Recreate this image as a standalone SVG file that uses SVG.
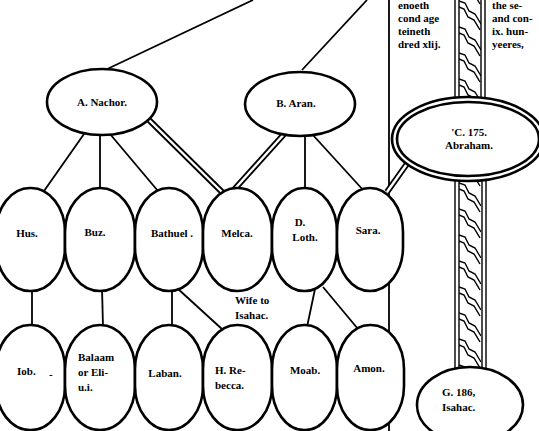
<svg xmlns="http://www.w3.org/2000/svg" width="539" height="431" viewBox="0 0 539 431">
<defs>
<style>
.n{fill:#fff;stroke:#000;stroke-width:2.6}
.l{stroke:#000;stroke-width:1.8;fill:none}
.dbo{stroke:#000;stroke-width:6;fill:none}
.dbi{stroke:#fff;stroke-width:2.4;fill:none}
.t{font-family:"Liberation Serif",serif;font-size:11px;font-weight:bold;fill:#000}
.c{text-anchor:middle}
.r{stroke:#000;stroke-width:1.4;fill:none}
</style>
<pattern id="rope" patternUnits="userSpaceOnUse" x="459" y="0" width="22" height="26">
<path d="M0,1 L6,3 L10,11 L16,14 L22,24" class="r"/>
<path d="M0,7 L5,9 L9,17 L15,20 L21,30" class="r"/>
<path d="M0,-19 L5,-17 L9,-9 L15,-6 L21,4" class="r"/>
</pattern>
</defs>

<g id="connectors">
<line class="l" x1="253" y1="0" x2="103" y2="71"/>
<line class="l" x1="367" y1="0" x2="302" y2="70"/>
<line class="l" x1="389" y1="0" x2="389" y2="431"/>
<line class="l" x1="84" y1="134" x2="44" y2="191"/>
<line class="l" x1="100" y1="134" x2="100" y2="190"/>
<line class="l" x1="110" y1="134" x2="158" y2="191"/>
<line class="dbo" x1="148" y1="119" x2="223" y2="193"/>
<line class="dbi" x1="148" y1="119" x2="223" y2="193"/>
<line class="dbo" x1="286" y1="132" x2="231" y2="193"/>
<line class="dbi" x1="286" y1="132" x2="231" y2="193"/>
<line class="l" x1="305" y1="134" x2="305" y2="190"/>
<line class="l" x1="312" y1="134" x2="364" y2="191"/>
<line class="dbo" x1="409" y1="161" x2="387" y2="192"/>
<line class="dbi" x1="409" y1="161" x2="387" y2="192"/>
<line class="l" x1="32" y1="288" x2="32" y2="327"/>
<line class="l" x1="102" y1="288" x2="103" y2="327"/>
<line class="l" x1="172" y1="288" x2="172" y2="327"/>
<line class="l" x1="177" y1="288" x2="223" y2="330"/>
<line class="l" x1="315" y1="289" x2="307" y2="327"/>
<line class="l" x1="323" y1="287" x2="358" y2="329"/>
<rect x="459" y="0" width="22" height="110" fill="url(#rope)"/>
<rect x="459" y="170" width="22" height="205" fill="url(#rope)"/>
<path class="r" d="M455,0 V110 M459,0 V110 M481,0 V110 M485,0 V110"/>
<path class="r" d="M455,170 V375 M459,170 V375 M482,170 V375 M486,170 V375"/>
</g>

<g id="topnote">
<text class="t" x="398" y="9">enoeth</text>
<text class="t" x="398" y="22">cond age</text>
<text class="t" x="398" y="35">teineth</text>
<text class="t" x="398" y="48">dred xlij.</text>
<text class="t" x="492" y="9">the se-</text>
<text class="t" x="492" y="22">and con-</text>
<text class="t" x="492" y="35">ix. hun-</text>
<text class="t" x="492" y="48">yeeres,</text>
</g>

<g id="nachor"><ellipse class="n" cx="102" cy="102" rx="55" ry="33"/><text class="t c" x="102" y="106">A. Nachor.</text></g>
<g id="aran"><ellipse class="n" cx="300" cy="104" rx="55" ry="32"/><text class="t c" x="296" y="107">B. Aran.</text></g>
<g id="abraham"><ellipse class="n" cx="468" cy="139" rx="76" ry="42"/><ellipse class="n" cx="468" cy="139" rx="71" ry="37" stroke-width="2"/><text class="t c" x="469" y="136">'C. 175.</text><text class="t c" x="469" y="149">Abraham.</text></g>
<g id="isahac"><ellipse class="n" cx="470" cy="405" rx="53" ry="38"/><text class="t" x="442" y="396">G. 186,</text><text class="t" x="442" y="411">Isahac.</text></g>

<g id="hus"><rect class="n" x="-4" y="188" width="69" height="103" rx="34" ry="44"/><text class="t c" x="27" y="237">Hus.</text></g>
<g id="buz"><rect class="n" x="65" y="188" width="70" height="103" rx="35" ry="44"/><text class="t c" x="95" y="236">Buz.</text></g>
<g id="bathuel"><rect class="n" x="135" y="188" width="68" height="103" rx="34" ry="44"/><text class="t c" x="172" y="237">Bathuel .</text></g>
<g id="melca"><rect class="n" x="203" y="188" width="69" height="103" rx="34" ry="44"/><text class="t c" x="237" y="237">Melca.</text></g>
<g id="loth"><rect class="n" x="272" y="188" width="65" height="103" rx="32" ry="44"/><text class="t c" x="300" y="226">D.</text><text class="t c" x="305" y="241">Loth.</text></g>
<g id="sara"><rect class="n" x="337" y="188" width="66" height="103" rx="33" ry="44"/><text class="t c" x="368" y="234">Sara.</text></g>

<g id="iob"><rect class="n" x="-4" y="325" width="69" height="105" rx="34" ry="44"/><text class="t" x="17" y="375">Iob.</text><text class="t" x="49" y="378">-</text></g>
<g id="balaam"><rect class="n" x="65" y="325" width="70" height="105" rx="35" ry="44"/><text class="t" x="78" y="361">Balaam</text><text class="t" x="78" y="376">or Eli-</text><text class="t" x="78" y="391">u.i.</text></g>
<g id="laban"><rect class="n" x="135" y="325" width="68" height="105" rx="34" ry="44"/><text class="t c" x="165" y="377">Laban.</text></g>
<g id="rebecca"><rect class="n" x="203" y="325" width="69" height="105" rx="34" ry="44"/><text class="t" x="215" y="374">H. Re-</text><text class="t" x="215" y="389">becca.</text></g>
<g id="moab"><rect class="n" x="272" y="325" width="65" height="105" rx="32" ry="44"/><text class="t c" x="305" y="374">Moab.</text></g>
<g id="amon"><rect class="n" x="337" y="325" width="67" height="105" rx="33" ry="44"/><text class="t c" x="369" y="372">Amon.</text></g>

<g id="wifenote"><text class="t" x="235" y="304">Wife to</text><text class="t" x="235" y="319">Isahac.</text></g>
</svg>
